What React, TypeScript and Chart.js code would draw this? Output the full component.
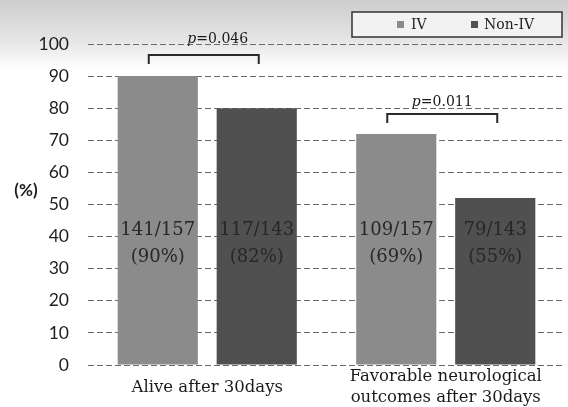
import React, { useEffect, useRef } from "react";
import { Chart, registerables } from "chart.js";

Chart.register(...registerables);

const categories = ["Alive after 30days", "Favorable neurological|outcomes after 30days"];
const seriesNames = ["IV", "Non-IV"];
const ivValues = [90, 72];
const nonIvValues = [80, 52];
const barLabels = [
  ["141/157", "(90%)"],
  ["117/143", "(82%)"],
  ["109/157", "(69%)"],
  ["79/143", "(55%)"],
];
const pValues = ["0.046", "0.011"];
const pLevels = [96.6, 78.2];
const yTicks = [0, 10, 20, 30, 40, 50, 60, 70, 80, 90, 100];

const COLORS = ["#8b8b8b", "#505050"];
const SERIF = "'DejaVu Serif', serif";
const SANS = "Lato, 'Noto Sans', sans-serif";
const P_TEXT_SHIFT = [14, 0];
const P_TEXT_GAP = [16, 12];

const overlay = {
  id: "overlay",
  beforeDraw(chart: any) {
    const ctx = chart.ctx;
    ctx.save();
    const g = ctx.createLinearGradient(0, 0, 0, 70);
    g.addColorStop(0, "#cdcdcd");
    g.addColorStop(0.6, "#e6e6e6");
    g.addColorStop(1, "#ffffff");
    ctx.fillStyle = "#ffffff";
    ctx.fillRect(0, 0, chart.width, chart.height);
    ctx.fillStyle = g;
    ctx.fillRect(0, 0, chart.width, 70);
    ctx.restore();
  },
  afterDraw(chart: any) {
    const ctx = chart.ctx;
    const x = chart.scales.x;
    const y = chart.scales.y;
    ctx.save();
    // bar labels
    ctx.fillStyle = "#262626";
    ctx.font = `18px ${SERIF}`;
    ctx.textAlign = "center";
    ctx.textBaseline = "middle";
    let k = 0;
    for (let c = 0; c < categories.length; c++) {
      for (let d = 0; d < 2; d++) {
        const bar = chart.getDatasetMeta(d).data[c];
        const lbl = barLabels[k++];
        ctx.fillText(lbl[0], bar.x, y.getPixelForValue(41.8));
        ctx.fillText(lbl[1], bar.x, y.getPixelForValue(33.5));
      }
    }
    // category labels
    ctx.fillStyle = "#1a1a1a";
    ctx.font = `16.5px ${SERIF}`;
    categories.forEach((c, i) => {
      const lines = c.split("|");
      const cx = x.getPixelForValue(i);
      const lh = 21;
      const cy = 387.5;
      lines.forEach((ln, j) => {
        ctx.fillText(ln, cx, cy + (j - (lines.length - 1) / 2) * lh);
      });
    });
    // (%)
    ctx.font = `bold 17px ${SANS}`;
    ctx.fillText("(%)", 26, 191);
    // brackets + p
    ctx.strokeStyle = "#2a2a2a";
    ctx.lineWidth = 2;
    for (let c = 0; c < categories.length; c++) {
      const b0 = chart.getDatasetMeta(0).data[c];
      const b1 = chart.getDatasetMeta(1).data[c];
      const x0 = b0.x - 9;
      const x1 = b1.x + 2;
      const yt = y.getPixelForValue(pLevels[c]);
      ctx.beginPath();
      ctx.moveTo(x0, yt + 9);
      ctx.lineTo(x0, yt);
      ctx.lineTo(x1, yt);
      ctx.lineTo(x1, yt + 9);
      ctx.stroke();
      const tx = (x0 + x1) / 2 + P_TEXT_SHIFT[c];
      const ty = yt - P_TEXT_GAP[c];
      ctx.font = `italic 14px ${SERIF}`;
      const pw = ctx.measureText("p").width;
      ctx.font = `14px ${SERIF}`;
      const rest = "=" + pValues[c];
      const rw = ctx.measureText(rest).width;
      const start = tx - (pw + rw) / 2;
      ctx.textAlign = "left";
      ctx.font = `italic 14px ${SERIF}`;
      ctx.fillText("p", start, ty);
      ctx.font = `14px ${SERIF}`;
      ctx.fillText(rest, start + pw, ty);
      ctx.textAlign = "center";
    }
    // legend
    ctx.fillStyle = "#f2f2f2";
    ctx.fillRect(352, 12, 210, 25);
    ctx.strokeStyle = "#333";
    ctx.lineWidth = 1.5;
    ctx.strokeRect(352, 12, 210, 25);
    ctx.font = `14px ${SERIF}`;
    ctx.textAlign = "left";
    const items = [
      { x: 397, tx: 411 },
      { x: 471, tx: 484 },
    ];
    items.forEach((it, i) => {
      ctx.fillStyle = COLORS[i];
      ctx.fillRect(it.x, 21, 7, 7);
      ctx.fillStyle = "#222";
      ctx.fillText(seriesNames[i], it.tx, 25);
    });
    ctx.restore();
  },
};

export default function App() {
  const ref = useRef<HTMLCanvasElement>(null);
  useEffect(() => {
    const chart = new Chart(ref.current as HTMLCanvasElement, {
      type: "bar",
      data: {
        labels: categories,
        datasets: [
          {
            label: seriesNames[0],
            data: ivValues,
            backgroundColor: COLORS[0],
            categoryPercentage: 0.83,
            barPercentage: 0.81,
          },
          {
            label: seriesNames[1],
            data: nonIvValues,
            backgroundColor: COLORS[1],
            categoryPercentage: 0.83,
            barPercentage: 0.81,
          },
        ],
      },
      options: {
        animation: false,
        responsive: false,
        layout: { padding: { top: 44, bottom: 42, right: 3, left: 0 } },
        plugins: { legend: { display: false }, tooltip: { enabled: false } },
        scales: {
          x: { display: false },
          y: {
            min: 0,
            max: 100,
            afterBuildTicks: (s: any) => {
              s.ticks = yTicks.map((v) => ({ value: v }));
            },
            afterFit: (s: any) => {
              s.width = 88;
            },
            border: { display: false, dash: [6, 3] },
            grid: {
              color: "#6a6a6a",
              lineWidth: 1,
              drawTicks: false,
            },
            ticks: {
              padding: 19,
              color: "#1e1e1e",
              font: { family: "Lato, 'Noto Sans', sans-serif", size: 17.5 },
            },
          },
        },
      },
      plugins: [overlay],
    });
    return () => chart.destroy();
  }, []);
  return (
    <div style={{ position: "fixed", left: 0, top: 0, width: 568, height: 407 }}>
      <canvas ref={ref} width={568} height={407} />
    </div>
  );
}
